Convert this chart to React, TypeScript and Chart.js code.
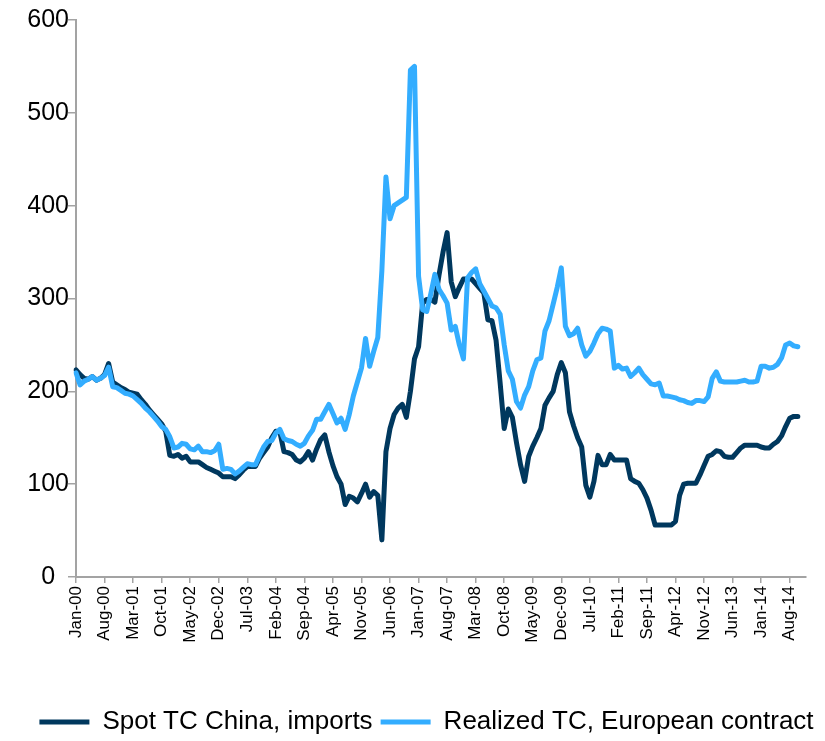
import { useEffect, useRef } from "react";
import { Chart, registerables } from "chart.js";

Chart.register(...registerables);

// Monthly categories, Jan-00 .. Dec-14 (series end in Oct-14)
const MONTHS = ["Jan", "Feb", "Mar", "Apr", "May", "Jun", "Jul", "Aug", "Sep", "Oct", "Nov", "Dec"];
const FIRST_YEAR = 2000;
const LAST_YEAR = 2014;
const LABEL_STEP = 7;

const categories: string[] = [];
for (let y = FIRST_YEAR; y <= LAST_YEAR; y++) {
  for (let m = 0; m < 12; m++) {
    categories.push(`${MONTHS[m]}-${String(y % 100).padStart(2, "0")}`);
  }
}

// Spot treatment charges, China imports (USD/t)
const spotChina = [
  223, 218, 214, 213, 216, 212, 214, 218, 230, 210, 207, 204,
  202, 199, 198, 197, 191, 186, 180, 175, 170, 165, 157, 131,
  130, 132, 128, 130, 124, 124, 124, 121, 118, 116, 114, 112,
  108, 108, 108, 106, 110, 115, 119, 119, 119, 128, 134, 140,
  150, 157, 156, 135, 134, 132, 126, 124, 128, 135, 126, 138,
  148, 153, 135, 120, 108, 100, 78, 87, 85, 81, 90, 100,
  86, 92, 88, 40, 135, 160, 175, 182, 186, 172, 200, 235,
  248, 295, 299, 299, 296, 325, 350, 371, 318, 302, 312, 321,
  321, 321, 316, 311, 306, 277, 276, 255, 209, 160, 181, 172,
  145, 121, 103, 130, 141, 150, 160, 185, 193, 200, 218, 231,
  220, 178, 163, 150, 140, 99, 86, 103, 131, 121, 121, 132,
  126, 126, 126, 126, 106, 103, 101, 94, 85, 72, 56, 56,
  56, 56, 56, 60, 88, 100, 101, 101, 101, 110, 120, 130,
  132, 136, 135, 130, 129, 129, 134, 139, 142, 142, 142, 142,
  140, 139, 139, 143, 146, 152, 162, 171, 173, 173,
];

// Realized treatment charges, European contract (USD/t)
const realizedEurope = [
  220, 207, 211, 213, 216, 212, 214, 217, 226, 205, 204, 201,
  198, 197, 195, 191, 187, 182, 178, 173, 168, 162, 159, 151,
  139, 140, 144, 143, 138, 137, 141, 135, 135, 134, 136, 143,
  116, 117, 116, 111, 114, 118, 122, 121, 121, 131, 140, 146,
  147, 155, 159, 149, 147, 146, 143, 141, 144, 152, 158, 170,
  170, 178, 186, 176, 166, 171, 159, 175, 195, 210, 225, 257,
  227, 243, 258, 330, 431, 386, 400, 403, 406, 409, 546, 550,
  324, 288, 286, 305, 326, 310, 303, 295, 266, 270, 250, 235,
  322, 328, 332, 316, 308, 300, 292, 290, 283, 250, 222, 213,
  189, 182, 196, 205, 222, 234, 236, 265, 276, 294, 312, 333,
  270, 260, 262, 268, 250, 238, 243, 252, 262, 268, 267, 265,
  225, 228, 224, 225, 216, 220, 225, 218, 213, 208, 207, 209,
  195, 195, 194, 193, 191, 190, 188, 187, 190, 190, 189, 194,
  214, 221, 211, 210, 210, 210, 210, 211, 212, 210, 210, 211,
  227, 227, 225, 226, 229, 236, 250, 252, 249, 248,
];

const Y_TICKS = { min: 0, max: 600, step: 100 };

const NAVY = "#00385E";
const SKY = "#33ADFF";
const AXIS_GRAY = "#A3A3A3";
const FONT = "'Liberation Sans', Arial, sans-serif";

const PAD_LEFT = 28;
const PLOT_LEFT = 76;
const PLOT_RIGHT_GAP = 19;

export default function App() {
  const canvasRef = useRef<HTMLCanvasElement | null>(null);

  useEffect(() => {
    const canvas = canvasRef.current;
    if (!canvas) return;
    Chart.defaults.font.family = FONT;

    const chart = new Chart(canvas, {
      type: "line",
      data: {
        labels: categories,
        datasets: [
          {
            label: "Spot TC China, imports",
            data: spotChina,
            borderColor: NAVY,
            backgroundColor: NAVY,
            borderWidth: 5,
            pointRadius: 0,
            tension: 0,
            borderJoinStyle: "round",
            borderCapStyle: "round",
            order: 1,
          },
          {
            label: "Realized TC, European contract",
            data: realizedEurope,
            borderColor: SKY,
            backgroundColor: SKY,
            borderWidth: 5,
            pointRadius: 0,
            tension: 0,
            borderJoinStyle: "round",
            borderCapStyle: "round",
            order: 0,
          },
        ],
      },
      options: {
        animation: false,
        responsive: false,
        events: [],
        layout: { padding: { left: PAD_LEFT, right: 0, top: 20, bottom: -4 } },
        plugins: {
          tooltip: { enabled: false },
          legend: {
            position: "bottom",
            labels: {
              color: "#000",
              font: { size: 26, family: FONT },
              boxWidth: 50,
              boxHeight: 5,
              padding: 8,
              sort: (a: any, b: any) => a.datasetIndex - b.datasetIndex,
              generateLabels: (c: any) =>
                Chart.defaults.plugins.legend.labels
                  .generateLabels(c)
                  .map((item: any) => ({ ...item, lineWidth: 0 })),
            },
          },
        },
        scales: {
          x: {
            type: "category",
            offset: false,
            grid: {
              drawOnChartArea: false,
              drawTicks: true,
              tickLength: 6,
              lineWidth: 1.5,
              color: (ctx: any) => (ctx.index % LABEL_STEP === 0 ? AXIS_GRAY : "rgba(0,0,0,0)"),
            },
            border: { color: AXIS_GRAY, width: 2 },
            ticks: {
              autoSkip: false,
              minRotation: 90,
              maxRotation: 90,
              padding: 3,
              color: "#000",
              font: { size: 17, family: FONT },
              callback: (_v: any, i: number) => (i % LABEL_STEP === 0 ? categories[i] : ""),
            },
            afterFit: (scale: any) => {
              scale.height = 124;
              scale.paddingRight = PLOT_RIGHT_GAP;
            },
          },
          y: {
            min: Y_TICKS.min,
            max: Y_TICKS.max,
            grid: {
              drawOnChartArea: false,
              drawTicks: true,
              tickLength: 8,
              lineWidth: 1.5,
              color: AXIS_GRAY,
            },
            border: { color: AXIS_GRAY, width: 2 },
            ticks: {
              stepSize: Y_TICKS.step,
              color: "#000",
              font: { size: 25, family: FONT },
              crossAlign: "center",
              padding: -1,
            },
            afterFit: (scale: any) => {
              scale.width = PLOT_LEFT - PAD_LEFT;
            },
          },
        },
      },
    } as any);

    return () => chart.destroy();
  }, []);

  return (
    <div style={{ position: "absolute", left: 0, top: 0, width: 825, height: 741, background: "#fff" }}>
      <canvas ref={canvasRef} width={825} height={741} style={{ display: "block" }} />
    </div>
  );
}
